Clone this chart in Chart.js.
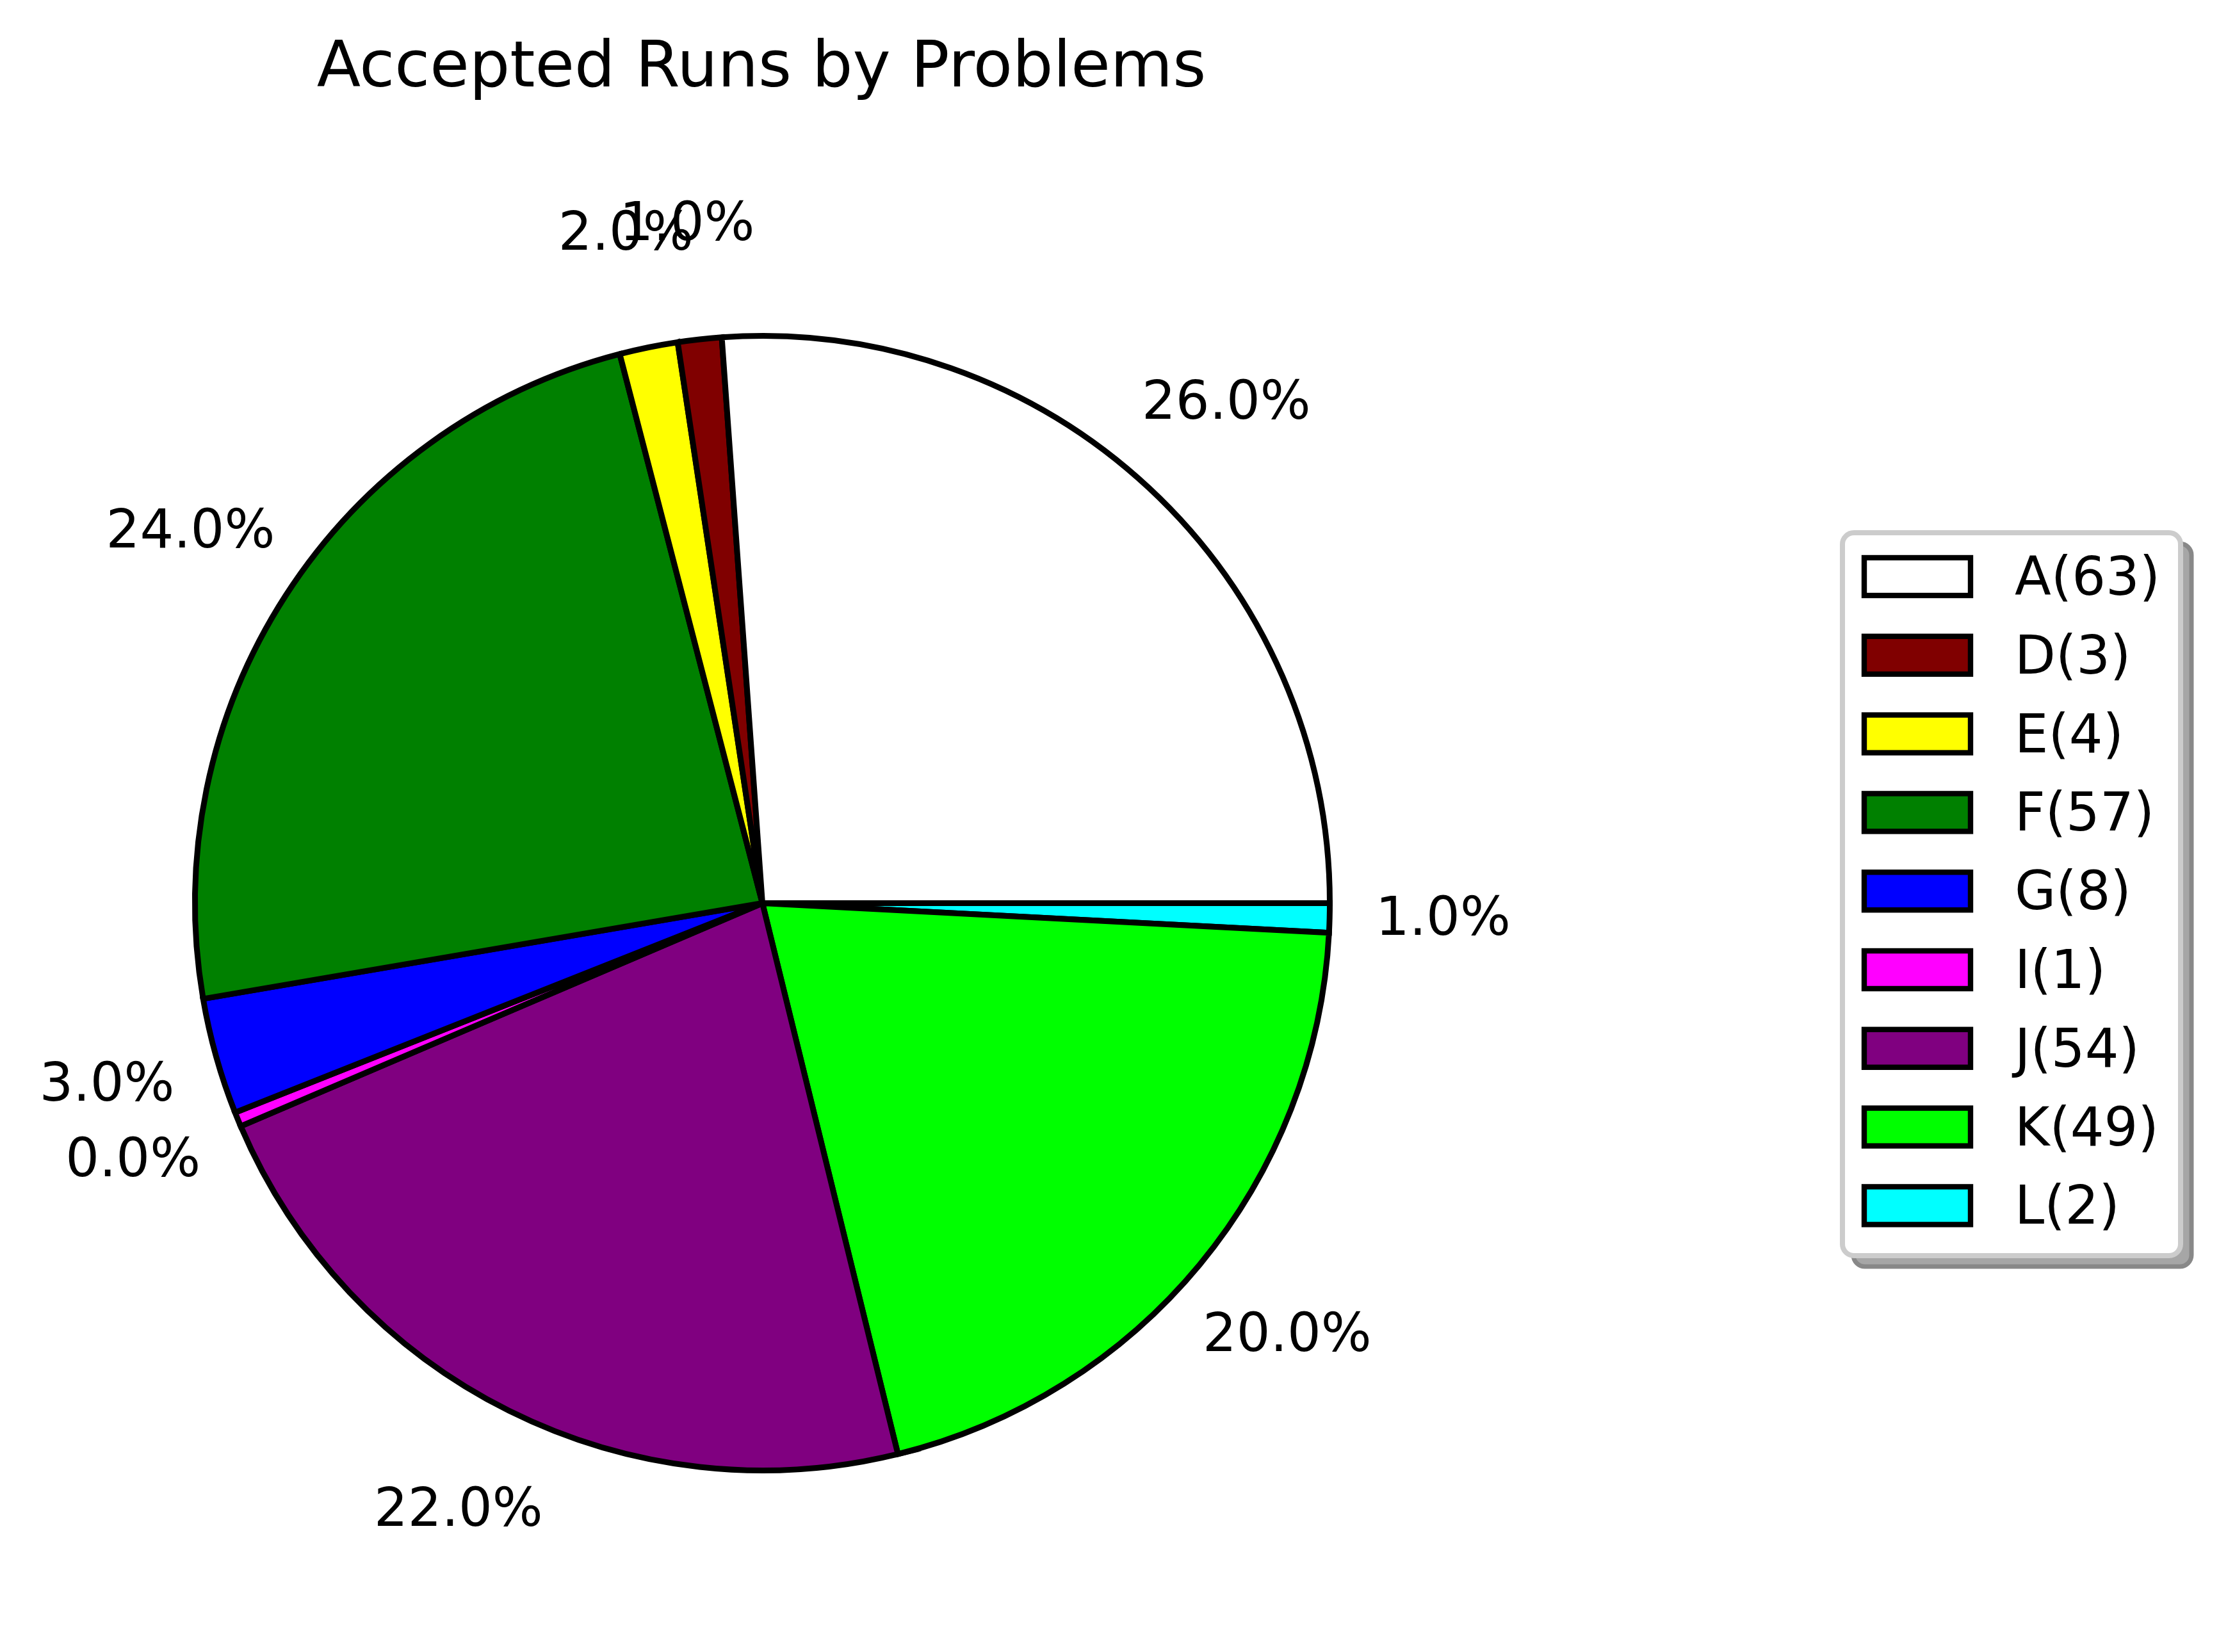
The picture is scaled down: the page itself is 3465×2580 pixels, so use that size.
<!DOCTYPE html>
<html>
<head>
<meta charset="utf-8">
<title>Accepted Runs by Problems</title>
<script src="https://cdn.jsdelivr.net/npm/chart.js@4.4.1/dist/chart.umd.min.js"></script>
<style>
  html, body { margin: 0; padding: 0; background: #ffffff; }
  #grafico { display: block; width: 3465px; height: 2580px; }
</style>
</head>
<body>
<canvas id="grafico" width="3465" height="2580"></canvas>
<script>
const problemas = ["A", "D", "E", "F", "G", "I", "J", "K", "L"];
const aceptados = [63, 3, 4, 57, 8, 1, 54, 49, 2];
const colores = ["#ffffff", "#800000", "#ffff00", "#008000", "#0000ff", "#ff00ff", "#800080", "#00ff00", "#00ffff"];
const titulo = "Accepted Runs by Problems";

const FUENTE = "'DejaVu Sans', sans-serif";

document.addEventListener("DOMContentLoaded", function () {
  const ctx = document.getElementById("grafico").getContext("2d");
  const total = aceptados.reduce(function (a, b) { return a + b; }, 0);

  // Chart.js draws clockwise, the original goes counter-clockwise from 3 o'clock,
  // so feed the slices in reverse and start at 90 degrees
  const valoresInv = aceptados.slice().reverse();
  const coloresInv = colores.slice().reverse();
  const etiquetasInv = problemas.slice().reverse();

  function porcentaje(v) {
    return Math.round(v * 100 / total).toFixed(1) + "%";
  }

  // percentage labels outside each wedge
  const pluginPorcentajes = {
    id: "porcentajes",
    afterDatasetsDraw(chart) {
      const c = chart.ctx;
      const meta = chart.getDatasetMeta(0);
      c.save();
      c.fillStyle = "#000000";
      c.font = "83px " + FUENTE;
      c.textAlign = "center";
      c.textBaseline = "middle";
      meta.data.forEach(function (arc, i) {
        const medio = (arc.startAngle + arc.endAngle) / 2;
        const dist = arc.outerRadius * 1.2;
        const x = arc.x + Math.cos(medio) * dist;
        const y = arc.y + Math.sin(medio) * dist;
        c.fillText(porcentaje(valoresInv[i]), x, y);
      });
      c.restore();
    }
  };

  function rectRedondo(c, x, y, w, h, r) {
    c.beginPath();
    c.moveTo(x + r, y);
    c.lineTo(x + w - r, y);
    c.arcTo(x + w, y, x + w, y + r, r);
    c.lineTo(x + w, y + h - r);
    c.arcTo(x + w, y + h, x + w - r, y + h, r);
    c.lineTo(x + r, y + h);
    c.arcTo(x, y + h, x, y + h - r, r);
    c.lineTo(x, y + r);
    c.arcTo(x, y, x + r, y, r);
    c.closePath();
  }

  // title and the boxed legend with a drop shadow
  const pluginLeyenda = {
    id: "leyenda",
    afterDraw(chart) {
      const c = chart.ctx;
      c.save();

      c.fillStyle = "#000000";
      c.font = "100px " + FUENTE;
      c.textAlign = "center";
      c.textBaseline = "alphabetic";
      c.fillText(titulo, 1189, 135);

      const fx = 2877, fy = 832, fw = 528, fh = 1129;

      // shadow
      rectRedondo(c, fx + 17, fy + 17, fw, fh, 18);
      c.fillStyle = "#a6a6a6";
      c.fill();
      c.lineWidth = 7;
      c.strokeStyle = "#888888";
      c.stroke();

      // frame
      rectRedondo(c, fx, fy, fw, fh, 18);
      c.fillStyle = "#ffffff";
      c.fill();
      c.lineWidth = 8;
      c.strokeStyle = "#cccccc";
      c.stroke();

      const paso = 122.8;
      c.font = "83px " + FUENTE;
      c.textAlign = "left";
      c.textBaseline = "alphabetic";
      problemas.forEach(function (p, i) {
        const y = 871 + i * paso;
        c.fillStyle = colores[i];
        c.fillRect(2911, y, 166, 59);
        c.lineWidth = 8.4;
        c.strokeStyle = "#000000";
        c.lineJoin = "miter";
        c.strokeRect(2911, y, 166, 59);
        c.fillStyle = "#000000";
        c.fillText(p + "(" + aceptados[i] + ")", 3146, 929 + i * paso);
      });

      c.restore();
    }
  };

  const config = {
    type: "pie",
    data: {
      labels: etiquetasInv,
      datasets: [
        {
          data: valoresInv,
          backgroundColor: coloresInv,
          borderColor: "#000000",
          borderWidth: 9,
          hoverBorderWidth: 9,
          borderAlign: "center",
          borderJoinStyle: "miter",
          hoverOffset: 0,
          offset: 0
        }
      ]
    },
    options: {
      responsive: false,
      maintainAspectRatio: false,
      devicePixelRatio: 1,
      animation: false,
      events: [],
      rotation: 90,
      layout: {
        padding: { left: 300, top: 520, right: 1384, bottom: 279 }
      },
      plugins: {
        legend: { display: false },
        title: { display: false },
        tooltip: { enabled: false }
      }
    },
    plugins: [pluginPorcentajes, pluginLeyenda]
  };

  new Chart(ctx, config);
});
</script>
</body>
</html>
